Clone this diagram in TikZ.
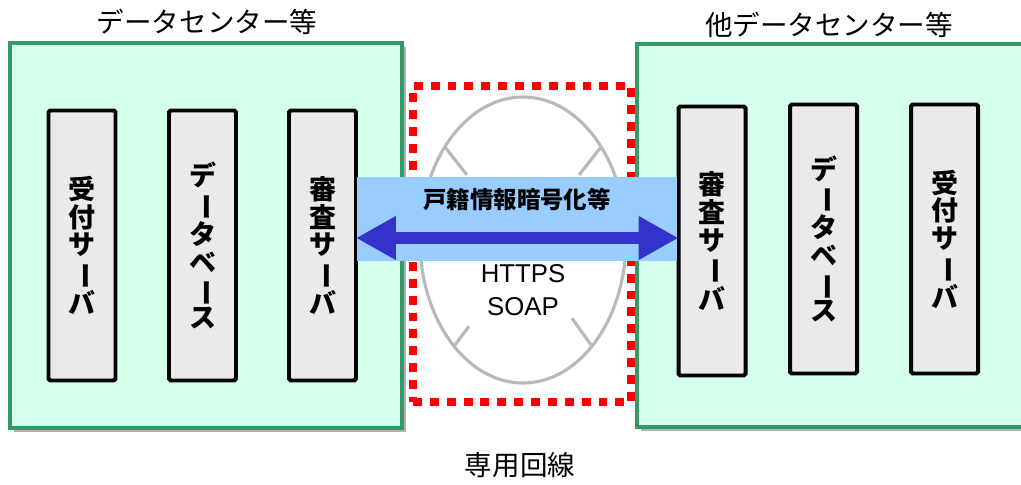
\documentclass[tikz,border=0pt]{standalone}
\usepackage{fontspec}
\usepackage{graphicx}
\usepackage{tikz}
\usetikzlibrary{arrows.meta, positioning, shapes.geometric, shadows}
\newfontfamily\jpfont{Noto Sans CJK JP}
\newfontfamily\latinfont{Liberation Sans}
\definecolor{dcgreen}{RGB}{51,153,102}
\definecolor{dcmint}{RGB}{212,255,234}
\definecolor{srvgray}{RGB}{234,234,234}
\definecolor{bandblue}{RGB}{153,204,255}
\definecolor{arrowblue}{RGB}{51,51,204}
\definecolor{pipegray}{RGB}{185,185,185}
\newlength\pxu
\setlength\pxu{0.03cm}
\newcommand\tatebar{\rotatebox[origin=c]{-90}{ー}}

\begin{document}
\begin{tikzpicture}[x=0.03cm, y=-0.03cm,
  dcbox/.style={draw=dcgreen, line width=3.6pt, fill=dcmint, inner sep=0pt, outer sep=0pt,
    drop shadow={shadow xshift=4*\pxu, shadow yshift=-4*\pxu, fill=black!30, opacity=1}},
  srvbox/.style={draw=black, line width=3.4pt, fill=srvgray, rounded corners=1.5pt,
    minimum width=67*\pxu, inner sep=0pt, outer sep=0pt, align=center,
    font=\jpfont\bfseries\fontsize{23}{23.6}\selectfont},
  title/.style={font=\jpfont\fontsize{23.5}{26}\selectfont, inner sep=0pt}]
  \useasboundingbox (0,0) rectangle (1021,485);

  % data centers
  \node[dcbox, minimum width=392*\pxu, minimum height=385*\pxu] (dcL) at (206,235.5) {};
  \node[dcbox, minimum width=400*\pxu, minimum height=383*\pxu] (dcR) at (837,235.5) {};
  \node[title] (dcLtitle) at (207,22) {データセンター等};
  \node[title] (dcRtitle) at (829,25) {他データセンター等};

  % servers
  \node[srvbox, minimum height=270*\pxu] (rcvL) at (82,245.5) {受\\付\\サ\\\tatebar\\バ};
  \node[srvbox, minimum height=270*\pxu] (dbL) at (202.5,245.5) {デ\\\tatebar\\タ\\ベ\\\tatebar\\ス};
  \node[srvbox, minimum height=270*\pxu] (audL) at (322.5,245.5) {審\\査\\サ\\\tatebar\\バ};
  \node[srvbox, minimum height=269*\pxu] (audR) at (712,241) {審\\査\\サ\\\tatebar\\バ};
  \node[srvbox, minimum height=269*\pxu] (dbR) at (823.5,239) {デ\\\tatebar\\タ\\ベ\\\tatebar\\ス};
  \node[srvbox, minimum height=269*\pxu] (rcvR) at (944.5,239) {受\\付\\サ\\\tatebar\\バ};

  % leased line
  \node[draw=red, line width=6.8pt, dash pattern=on 7.6pt off 6.8pt, minimum width=218*\pxu,
    minimum height=316*\pxu, inner sep=0pt, outer sep=0pt] (line) at (522,244) {};
  \node[draw=pipegray, line width=2.7pt, ellipse, minimum width=206*\pxu, minimum height=286*\pxu,
    inner sep=0pt, outer sep=0pt] (pipe) at (523,240) {};
  \draw[pipegray, line width=2.7pt] (pipe.130) -- ++(22,28);
  \draw[pipegray, line width=2.7pt] (pipe.50) -- ++(-22,28);
  \draw[pipegray, line width=2.7pt] (pipe.237) -- ++(15,-20);
  \draw[pipegray, line width=2.7pt] (pipe.303) -- ++(-20,-28);
  \node[title] (lineLabel) at (520,465) {専用回線};

  % encrypted transfer
  \node[fill=bandblue, minimum width=320*\pxu, minimum height=84*\pxu, inner sep=0pt] (band) at (517,219) {};
  \node[font=\jpfont\bfseries\fontsize{20}{22}\selectfont, inner sep=0pt] (enc) at (517,200) {戸籍情報暗号化等};
  \coordinate (arrowY) at (0,238);
  \draw[arrowblue, line width=9.4pt, {Triangle[length=34pt, width=35pt]}-{Triangle[length=34pt, width=35pt]}]
    (audL.east |- arrowY) -- (audR.west |- arrowY);
  \node[font=\latinfont\fontsize{22}{28}\selectfont, align=center, inner sep=0pt] (proto) at (523,290) {HTTPS\\SOAP};
\end{tikzpicture}
\end{document}
